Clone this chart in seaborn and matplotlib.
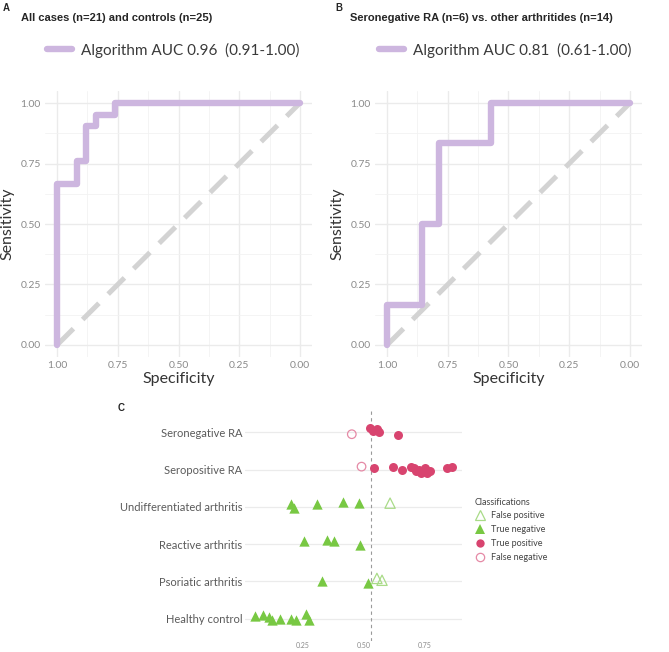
import numpy as np
import pandas as pd
import seaborn as sns
import matplotlib.pyplot as plt
from matplotlib.lines import Line2D

# ROC curves, steps
spec_all = [1.0, 1.0, 0.92, 0.92, 0.88, 0.88, 0.84, 0.84, 0.76, 0.76, 0.0]
sens_all = [0.0, 0.667, 0.667, 0.762, 0.762, 0.905, 0.905, 0.952, 0.952, 1.0, 1.0]
spec_neg = [1.0, 1.0, 0.857, 0.857, 0.786, 0.786, 0.571, 0.571, 0.0]
sens_neg = [0.0, 0.167, 0.167, 0.5, 0.5, 0.833, 0.833, 1.0, 1.0]
chance_spec = [1.0, 0.0]
chance_sens = [0.0, 1.0]
roc_ticks = [0.0, 0.25, 0.5, 0.75, 1.0]
roc_ticklabels = ['0.00', '0.25', '0.50', '0.75', '1.00']

title_all = 'All cases (n=21) and controls (n=25)'
title_neg = 'Seronegative RA (n=6) vs. other arthritides (n=14)'
label_all = 'Algorithm AUC 0.96  (0.91-1.00)'
label_neg = 'Algorithm AUC 0.81  (0.61-1.00)'

# Panel C: algorithm scores per group
groups = ['Seronegative RA', 'Seropositive RA', 'Undifferentiated arthritis',
          'Reactive arthritis', 'Psoriatic arthritis', 'Healthy control']
threshold = 0.53
score_ticks = [0.25, 0.5, 0.75]

seroneg_score = [0.45, 0.525, 0.537, 0.553, 0.561, 0.64]
seroneg_class = ['FN', 'TP', 'TP', 'TP', 'TP', 'TP']
seroneg_jit = [-0.05, 0.11, 0.03, 0.08, 0.0, -0.08]

seropos_score = [0.49, 0.54, 0.62, 0.656, 0.693, 0.705, 0.715, 0.725, 0.735,
                 0.74, 0.75, 0.76, 0.77, 0.84, 0.86]
seropos_class = ['FN'] + ['TP'] * 14
seropos_jit = [0.08, 0.03, 0.08, 0.0, 0.08, 0.05, -0.05, 0.0, -0.1, -0.03,
               0.05, -0.08, -0.03, 0.05, 0.08]

undiff_score = [0.20, 0.213, 0.307, 0.414, 0.48, 0.607]
undiff_class = ['TN', 'TN', 'TN', 'TN', 'TN', 'FP']
undiff_jit = [0.08, -0.03, 0.08, 0.13, 0.1, 0.1]

reactive_score = [0.254, 0.348, 0.377, 0.484]
reactive_class = ['TN', 'TN', 'TN', 'TN']
reactive_jit = [0.08, 0.1, 0.08, -0.03]

psoriatic_score = [0.328, 0.516, 0.553, 0.574]
psoriatic_class = ['TN', 'TN', 'FP', 'FP']
psoriatic_jit = [0.0, -0.05, 0.08, 0.03]

healthy_score = [0.053, 0.086, 0.11, 0.123, 0.156, 0.2, 0.221, 0.262, 0.275]
healthy_class = ['TN'] * 9
healthy_jit = [0.08, 0.1, 0.05, -0.03, 0.0, 0.0, -0.03, 0.13, -0.03]

class_order = ['FP', 'TN', 'TP', 'FN']
class_names = ['False positive', 'True negative', 'True positive', 'False negative']

PURPLE = '#cdb6df'
GREEN = '#78c843'
LIGHT_GREEN = '#a9db88'
PINK = '#d8446f'
LIGHT_PINK = '#e58aa6'

sns.set_theme(style='whitegrid')
plt.rcParams['font.family'] = ['Lato', 'DejaVu Sans']

W, H = 669, 652
fig = plt.figure(figsize=(W / 100, H / 100), dpi=100)


def px_axes(left, top, right, bottom):
    return fig.add_axes([left / W, 1 - bottom / H, (right - left) / W, (bottom - top) / H])


def roc_panel(ax, spec, sens, label, letter, lx, title, tx, leg_x):
    ax.set_facecolor('white')
    for s in ax.spines.values():
        s.set_visible(False)
    ax.plot(chance_spec, chance_sens, color='#d3d3d3', lw=3.6,
            dashes=(4.6, 2.6), solid_capstyle='butt', zorder=1)
    sns.lineplot(x=spec, y=sens, sort=False, estimator=None, color=PURPLE,
                 lw=4.6, ax=ax, label=label, zorder=2)
    ax.set_xlim(1.05, -0.05)
    ax.set_ylim(-0.05, 1.05)
    ax.set_xticks(roc_ticks)
    ax.set_xticklabels(roc_ticklabels)
    ax.set_yticks(roc_ticks)
    ax.set_yticklabels(roc_ticklabels)
    ax.set_xticks([0.125, 0.375, 0.625, 0.875], minor=True)
    ax.set_yticks([0.125, 0.375, 0.625, 0.875], minor=True)
    ax.grid(which='major', color='#ebebeb', lw=1.0)
    ax.grid(which='minor', color='#f2f2f2', lw=0.6)
    ax.tick_params(which='both', length=0, labelsize=7.5, labelcolor='#8a8a8a', pad=3)
    ax.set_xlabel('Specificity', fontsize=11.5, color='#333333', labelpad=1)
    ax.set_ylabel('Sensitivity', fontsize=11.5, color='#333333', labelpad=4)
    ax.legend(loc='center left', bbox_to_anchor=(leg_x / W, 1 - 50 / H),
              bbox_transform=fig.transFigure, frameon=False, fontsize=11,
              handlelength=1.65, handletextpad=0.55, borderpad=0, borderaxespad=0,
              labelcolor='#3a3a3a')
    fig.text(lx / W, 1 - 8 / H, letter, fontsize=7, fontweight='bold',
             family='Liberation Sans', va='center')
    fig.text(tx / W, 1 - 18 / H, title, fontsize=8, fontweight='bold',
             family='Liberation Sans', va='center')


ax_a = px_axes(45, 91, 312, 357)
roc_panel(ax_a, spec_all, sens_all, label_all, 'A', 3, title_all, 21, 47)
ax_b = px_axes(375, 91, 642, 357)
roc_panel(ax_b, spec_neg, sens_neg, label_neg, 'B', 335, title_neg, 350, 379)

# Panel C
frames = []
for name, sc, cl, jt in [
        (groups[0], seroneg_score, seroneg_class, seroneg_jit),
        (groups[1], seropos_score, seropos_class, seropos_jit),
        (groups[2], undiff_score, undiff_class, undiff_jit),
        (groups[3], reactive_score, reactive_class, reactive_jit),
        (groups[4], psoriatic_score, psoriatic_class, psoriatic_jit),
        (groups[5], healthy_score, healthy_class, healthy_jit)]:
    frames.append(pd.DataFrame({'group': name, 'score': sc, 'cls': cl, 'jit': jt}))
df = pd.concat(frames, ignore_index=True)
row = {g: len(groups) - 1 - i for i, g in enumerate(groups)}
df['ypos'] = df['group'].map(row) + df['jit']

ax_c = px_axes(245, 410, 462, 641)
ax_c.set_facecolor('white')
for s in ax_c.spines.values():
    s.set_visible(False)

styles = {
    'FP': dict(marker='^', color=LIGHT_GREEN, s=55, hollow=True),
    'TN': dict(marker='^', color=GREEN, s=55, hollow=False),
    'TP': dict(marker='o', color=PINK, s=42, hollow=False),
    'FN': dict(marker='o', color=LIGHT_PINK, s=38, hollow=True),
}
for c in class_order:
    sub = df[df['cls'] == c]
    st = styles[c]
    sns.scatterplot(data=sub, x='score', y='ypos', marker=st['marker'], color=st['color'],
                    s=st['s'], linewidth=0, ax=ax_c, legend=False, zorder=3)
    if st['hollow']:
        coll = ax_c.collections[-1]
        coll.set_facecolor('none')
        coll.set_edgecolor(st['color'])
        coll.set_linewidth(0.9)

ax_c.axvline(threshold, color='#9a9a9a', lw=0.8, ls=(0, (3, 3)), zorder=2)
ax_c.set_xlim(0.012, 0.902)
ax_c.set_ylim(-0.6, len(groups) - 0.4)
ax_c.set_yticks([row[g] for g in groups])
ax_c.set_yticklabels(groups)
ax_c.set_xticks(score_ticks)
ax_c.set_xticklabels(['0.25', '0.50', '0.75'])
ax_c.grid(axis='x', visible=False)
ax_c.grid(axis='y', color='#ebebeb', lw=0.9)
ax_c.tick_params(axis='y', length=0, labelsize=8, labelcolor='#5a5a5a', pad=2)
ax_c.tick_params(axis='x', length=0, labelsize=5, labelcolor='#8a8a8a', pad=1)
ax_c.set_xlabel('')
ax_c.set_ylabel('')
fig.text(118 / W, 1 - 408 / H, 'C', fontsize=7, fontweight='bold',
         family='Liberation Sans', va='center')

handles = []
for c, nm in zip(class_order, class_names):
    st = styles[c]
    handles.append(Line2D([], [], ls='none', marker=st['marker'], markersize=6.5 if st['marker'] == '^' else 6,
                          markerfacecolor='none' if st['hollow'] else st['color'],
                          markeredgecolor=st['color'], markeredgewidth=0.9 if st['hollow'] else 0,
                          label=nm))
leg = fig.legend(handles=handles, title='Classifications', loc='upper left',
                 bbox_to_anchor=(470 / W, 1 - 493 / H), frameon=False, fontsize=6.5,
                 title_fontsize=6.5, handlelength=1.2, handletextpad=0.6,
                 labelspacing=0.55, borderpad=0, alignment='left', labelcolor='#444444')
leg.get_title().set_color('#444444')

fig.savefig('out.png', dpi=100)
